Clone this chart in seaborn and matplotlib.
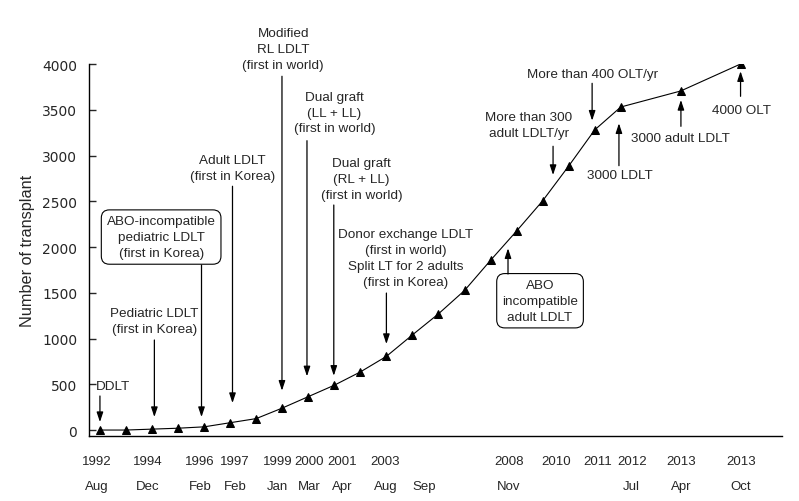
import matplotlib
matplotlib.use('Agg')
import matplotlib.pyplot as plt
import seaborn as sns

# cumulative number of liver transplants
pos = list(range(21)) + [22.3, 24.6]
counts = [0, 0, 10, 20, 35, 80, 125, 240, 365, 490, 635, 805, 1040, 1270,
          1525, 1855, 2175, 2505, 2885, 3280, 3530, 3705, 4000]

# x axis labels (year on top, month below)
tick_pos = [-0.12, 1.85, 3.85, 5.19, 6.81, 8.04, 9.31, 10.96, 12.46,
            15.7, 17.5, 19.12, 20.42, 22.31, 24.62]
years = ['1992', '1994', '1996', '1997', '1999', '2000', '2001', '2003', '',
         '2008', '2010', '2011', '2012', '2013', '2013']
months = ['Aug', 'Dec', 'Feb', 'Feb', 'Jan', 'Mar', 'Apr', 'Aug', 'Sep',
          'Nov', '', '', 'Jul', 'Apr', 'Oct']

# milestones: text, text centre, arrow tail, arrow tip, boxed
notes = [
    ('DDLT', (0.52, 481), (0, 372), (0, 87), False),
    ('Pediatric LDLT\n(first in Korea)', (2.1, 1191), (2.09, 984), (2.09, 142), False),
    ('ABO-incompatible\npediatric LDLT\n(first in Korea)', (2.35, 2109), (3.9, 1803), (3.9, 142), True),
    ('Adult LDLT\n(first in Korea)', (5.1, 2860), (5.09, 2664), (5.09, 295), False),
    ('Modified\nRL LDLT\n(first in world)', (7.04, 4164), (6.99, 3866), (6.99, 430), False),
    ('Dual graft\n(LL + LL)\n(first in world)', (9.01, 3470), (7.95, 3162), (7.95, 587), False),
    ('Dual graft\n(RL + LL)\n(first in world)', (10.04, 2743), (8.98, 2459), (8.98, 593), False),
    ('Donor exchange LDLT\n(first in world)\nSplit LT for 2 adults\n(first in Korea)',
     (11.73, 1881), (11.0, 1497), (11.0, 940), False),
    ('ABO\nincompatible\nadult LDLT', (16.9, 1413), (15.67, 1705), (15.67, 1986), True),
    ('More than 300\nadult LDLT/yr', (16.46, 3330), (17.4, 3101), (17.4, 2787), False),
    ('More than 400 OLT/yr', (18.92, 3894), (18.9, 3789), (18.9, 3381), False),
    ('3000 LDLT', (19.95, 2790), (19.93, 2889), (19.93, 3352), False),
    ('3000 adult LDLT', (22.31, 3192), (22.31, 3319), (22.31, 3607), False),
    ('4000 OLT', (24.62, 3501), (24.6, 3647), (24.6, 3921), False),
]

sns.set_style('ticks')
plt.rcParams['font.family'] = ['DejaVu Sans']
narrow = 'Liberation Sans'

fig = plt.figure(figsize=(7.99, 5.02), dpi=100)
ax = fig.add_axes([0.1114, 0.1295, 0.8676, 0.741])

sns.lineplot(x=pos, y=counts, ax=ax, color='black', linewidth=0.8,
             marker='^', markersize=5.5, markeredgecolor='black')

ax.set_xlim(-0.42, 26.2)
ax.set_ylim(-65, 4000)
ax.set_yticks(range(0, 4001, 500))
ax.tick_params(axis='y', direction='in', length=5, width=1, pad=8.5, labelsize=10)
ax.set_xticks(tick_pos)
ax.set_xticklabels([f'{y}\n{m}' for y, m in zip(years, months)],
                   family=narrow, fontsize=9.5, linespacing=2.35)
ax.tick_params(axis='x', length=0, pad=14)
ax.set_ylabel('Number of transplant', family=narrow, fontsize=11.7, labelpad=5)
sns.despine(ax=ax)
for s in ['left', 'bottom']:
    ax.spines[s].set_color('black')
    ax.spines[s].set_linewidth(1)

for text, xy, tail, tip, boxed in notes:
    box = None
    if boxed:
        box = dict(boxstyle='round,pad=0.4,rounding_size=0.6', fc='white',
                   ec='black', lw=0.8)
    ax.text(xy[0], xy[1], text, ha='center', va='center', family=narrow,
            fontsize=9.7, linespacing=1.42, bbox=box, clip_on=False)
    ax.annotate('', xy=tip, xytext=tail,
                arrowprops=dict(arrowstyle='-|>,head_length=0.45,head_width=0.15',
                                color='black', lw=0.9, mutation_scale=13,
                                shrinkA=0, shrinkB=0))

fig.savefig('out.png', dpi=100)
